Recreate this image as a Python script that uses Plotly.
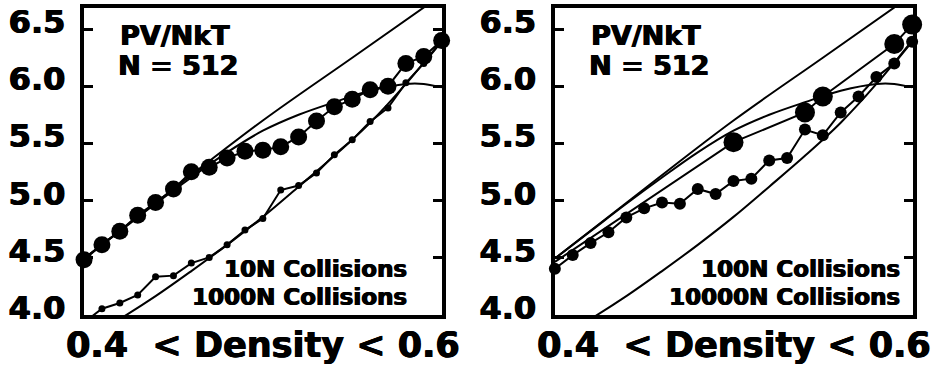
import plotly.graph_objects as go
import numpy as np

# ---------------- data ----------------
density = [0.40, 0.41, 0.42, 0.43, 0.44, 0.45, 0.46, 0.47, 0.48, 0.49, 0.50,
           0.51, 0.52, 0.53, 0.54, 0.55, 0.56, 0.57, 0.58, 0.59, 0.60]

# left panel
left_big = [4.48, 4.61, 4.73, 4.87, 4.98, 5.10, 5.25, 5.29, 5.37, 5.43, 5.44,
            5.47, 5.555, 5.695, 5.82, 5.885, 5.97, 6.00, 6.20, 6.26, 6.40]
left_small = [3.93, 4.05, 4.10, 4.17, 4.33, 4.34, 4.45, 4.50, 4.61, 4.74, 4.84,
              5.09, 5.13, 5.24, 5.40, 5.53, 5.69, 5.81, 6.03, 6.20, 6.39]

# right panel
right_small = [4.40, 4.52, 4.625, 4.72, 4.85, 4.93, 4.98, 4.97, 5.10, 5.055, 5.17,
               5.19, 5.35, 5.37, 5.62, 5.57, 5.77, 5.91, 6.08, 6.20, 6.39]
right_big_x = [0.40, 0.50, 0.54, 0.55, 0.59, 0.60]
right_big_y = [4.46, 5.51, 5.77, 5.91, 6.37, 6.54]

# theory curves
curveA_x = [0.40, 0.45, 0.50, 0.55, 0.60]
curveA_y = [4.49, 5.10, 5.70, 6.25, 6.80]
curveB_x = [0.40, 0.42, 0.44, 0.46, 0.48, 0.50, 0.52, 0.54, 0.56, 0.58, 0.59, 0.60]
curveB_y = [4.49, 4.73, 4.97, 5.20, 5.42, 5.61, 5.75, 5.86, 5.96, 6.02, 6.02, 5.99]
curveC_x = [0.40, 0.42, 0.44, 0.46, 0.48, 0.50, 0.52, 0.54, 0.56, 0.58, 0.60]
curveC_y = [3.78, 3.96, 4.16, 4.38, 4.61, 4.855, 5.12, 5.39, 5.68, 6.02, 6.40]

y_ticks = [4.0, 4.5, 5.0, 5.5, 6.0, 6.5]
y_ticktext = ["4.0", "4.5", "5.0", "5.5", "6.0", "6.5"]

left_labels = ["10N Collisions", "1000N Collisions"]
right_labels = ["100N Collisions", "10000N Collisions"]
panel_title = ["PV/NkT", "N = 512"]
x_title = "0.4&nbsp;&nbsp;&lt; Density &lt; 0.6"

# ---------------- figure ----------------
W, H = 934, 366
FONT = "DejaVu Sans"
HEAVY = "0.7px 0px 0px black, -0.5px 0px 0px black"
fig = go.Figure()

def theory(xa, ya):
    for cx, cy in [(curveA_x, curveA_y), (curveB_x, curveB_y), (curveC_x, curveC_y)]:
        fig.add_trace(go.Scatter(x=cx, y=cy, mode="lines", xaxis=xa, yaxis=ya,
                                 line=dict(color="black", width=2, shape="spline"),
                                 showlegend=False, hoverinfo="skip"))

theory("x", "y")
theory("x2", "y2")

# left panel data
fig.add_trace(go.Scatter(x=density, y=left_small, mode="lines+markers", xaxis="x", yaxis="y",
                         line=dict(color="black", width=2),
                         marker=dict(color="black", size=7), showlegend=False))
fig.add_trace(go.Scatter(x=density, y=left_big, mode="lines+markers", xaxis="x", yaxis="y",
                         line=dict(color="black", width=2),
                         marker=dict(color="black", size=17), cliponaxis=False,
                         showlegend=False))

# right panel data
fig.add_trace(go.Scatter(x=density, y=right_small, mode="lines+markers", xaxis="x2", yaxis="y2",
                         line=dict(color="black", width=2),
                         marker=dict(color="black", size=12), cliponaxis=False,
                         showlegend=False))
fig.add_trace(go.Scatter(x=right_big_x, y=right_big_y, mode="lines", xaxis="x2", yaxis="y2",
                         line=dict(color="black", width=2), showlegend=False))
rbx = np.array(right_big_x)
rby = np.array(right_big_y)
fig.add_trace(go.Scatter(x=rbx[1:], y=rby[1:], mode="markers", xaxis="x2", yaxis="y2",
                         marker=dict(color="black", size=20), cliponaxis=False,
                         showlegend=False))

def px_x(p):
    return p / W

def px_y(p):
    return 1 - p / H

xrange_ = [0.3998, 0.6002]
yrange_ = [3.995, 6.69]
ydom = [px_y(315), px_y(7.5)]
xdom1 = [px_x(83.7), px_x(442)]
xdom2 = [px_x(554.5), px_x(912.5)]

xcommon = dict(range=xrange_, showline=True, linecolor="black", linewidth=4, mirror=True,
               ticks="", showticklabels=False, showgrid=False, zeroline=False,
               fixedrange=True, automargin=False)
ycommon = dict(range=yrange_, showline=True, linecolor="black", linewidth=4, mirror="ticks",
               ticks="inside", ticklen=9, tickwidth=3, tickcolor="black",
               tickvals=y_ticks, ticktext=y_ticktext, ticklabelshift=-7, ticklabelstandoff=8,
               tickfont=dict(family=FONT, size=32, color="black", weight="bold", shadow=HEAVY),
               showgrid=False, zeroline=False, fixedrange=True, automargin=False)

fig.update_layout(
    template="none",
    width=W, height=H, margin=dict(l=0, r=0, t=0, b=0, pad=0),
    paper_bgcolor="white", plot_bgcolor="white",
    xaxis=dict(domain=xdom1, anchor="y", **xcommon),
    yaxis=dict(domain=ydom, anchor="x", **ycommon),
    xaxis2=dict(domain=xdom2, anchor="y2", **xcommon),
    yaxis2=dict(domain=ydom, anchor="x2", **ycommon),
    showlegend=False,
)

def ann(text, x, y, size, xanchor="left"):
    fig.add_annotation(text=text, x=x, y=y, xref="paper", yref="paper",
                       xanchor=xanchor, yanchor="middle", showarrow=False,
                       font=dict(family=FONT, size=size, color="black", weight="bold",
                                 shadow=HEAVY))

for off, labels, right_edge in [(0, left_labels, 408.5), (470.8, right_labels, 902)]:
    ann(panel_title[0], px_x(118 + off), px_y(35), 27)
    ann(panel_title[1], px_x(116 + off), px_y(65.5), 27)
    ann(labels[0], px_x(right_edge), px_y(269), 23, "right")
    ann(labels[1], px_x(right_edge), px_y(296.5), 23, "right")

ann(x_title, (xdom1[0] + xdom1[1]) / 2, px_y(345), 35, "center")
ann(x_title, (xdom2[0] + xdom2[1]) / 2, px_y(345), 35, "center")

fig.write_html("out.html")
